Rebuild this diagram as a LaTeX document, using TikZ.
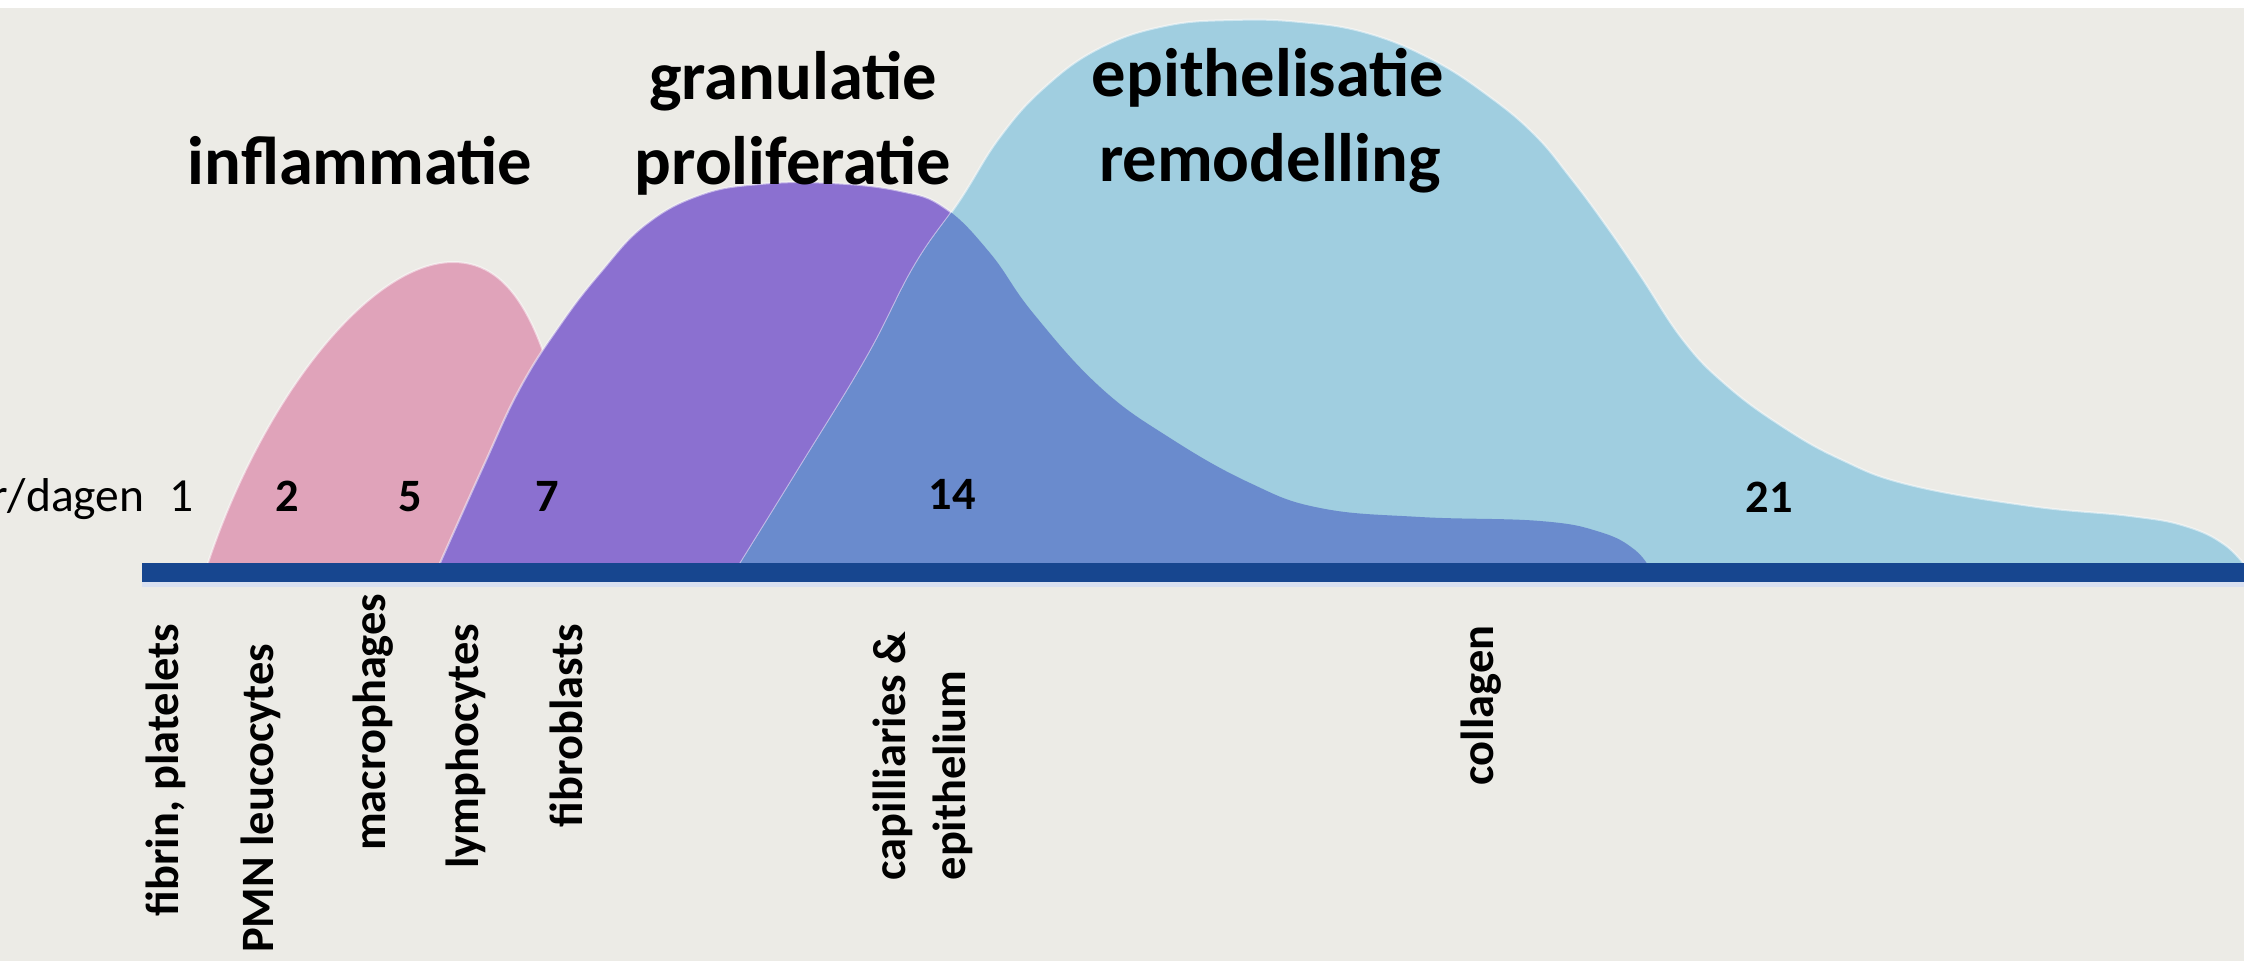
\documentclass[tikz,border=0pt]{standalone}
\usepackage{fontspec}
\setmainfont{Carlito}
\usepackage{tikz}
\usetikzlibrary{calc}

\definecolor{backgr}{HTML}{ECEBE6}
\definecolor{inflpink}{HTML}{E0A3BA}
\definecolor{granpurple}{HTML}{8B70D0}
\definecolor{overlapblue}{HTML}{6A8BCD}
\definecolor{epiblue}{HTML}{A0CEE0}
\definecolor{axisblue}{HTML}{17468F}
\definecolor{axisedge}{HTML}{D9E0F0}

\newcommand{\titlefont}{\fontsize{19.5}{23}\selectfont\bfseries}
\newcommand{\labelfont}{\fontsize{13.2}{17}\selectfont\bfseries}

% phase curves, in pixels of the slide
\newcommand{\pinkcurve}{(205,572) .. controls (260,400) and (370,262) .. (453,262) .. controls (515,262) and (560,330) .. (585,572)}
\newcommand{\purplecurve}{plot[smooth, tension=0.7] coordinates {(436,572) (483,467) (520,388) (560,325) (600,273) (645,225) (700,195) (760,184) (830,183) (900,191) (945,208) (990,253) (1033,313) (1100,387) (1170,438) (1250,483) (1320,508) (1420,517) (1540,521) (1600,532) (1635,550) (1652,572)}}
\newcommand{\bluecurve}{plot[smooth, tension=0.7] coordinates {(735,572) (800,467) (867,357) (915,265) (960,200) (1000,137) (1045,87) (1100,48) (1165,26) (1233,20) (1300,22) (1367,33) (1433,60) (1490,97) (1535,135) (1570,177) (1605,224) (1640,275) (1683,340) (1725,384) (1780,425) (1840,459) (1910,485) (2030,506) (2130,516) (2185,526) (2225,545) (2250,572)}}

\begin{document}
\begin{tikzpicture}[x=0.01cm, y=-0.01cm,
	title/.style={font=\titlefont, inner sep=0, anchor=base},
	day/.style={font=\labelfont, inner sep=0, anchor=base},
	cell/.style={font=\labelfont, inner sep=0, rotate=90, anchor=east},
	phase/.style={draw=white, draw opacity=0.5, line width=0.02cm}]

	\useasboundingbox (0,0) rectangle (2244,961);
	\fill[backgr] (0,0) rectangle (2244,961);
	\fill[white] (0,0) rectangle (2244,8);

	\fill[inflpink, phase] \pinkcurve -- cycle;
	\fill[granpurple, phase] \purplecurve -- cycle;
	\fill[epiblue, phase] \bluecurve -- cycle;
	\begin{scope}
		\clip \purplecurve -- cycle;
		\fill[overlapblue] \bluecurve -- cycle;
	\end{scope}

	\coordinate (t0) at (142,572.5);
	\coordinate (tend) at (2244,572.5);
	\draw[axisedge, line width=0.05cm] ($(t0)+(0,12)$) -- ($(tend)+(0,12)$);
	\draw[axisblue, line width=0.19cm] (t0) -- (tend);

	\node[title] (inflam) at (360,185) {inflammatie};
	\node[title] (gran) at (793,100) {granulatie};
	\node[title] (prolif) at (793,185) {proliferatie};
	\node[title] (epith) at (1268,97) {epithelisatie};
	\node[title] (remod) at (1270,182) {remodelling};

	\node[day, font=\fontsize{13.5}{17}\selectfont, anchor=base east] (unit) at (145,512) {r/dagen};
	\node[day, font=\fontsize{13.5}{17}\selectfont] (d1) at (182,512) {1};
	\node[day] (d2) at (287,512) {2};
	\node[day] (d5) at (410,512) {5};
	\node[day] (d7) at (547,512) {7};
	\node[day] (d14) at (952,510) {14};
	\node[day] (d21) at (1769,513) {21};

	\node[cell] (fibrin) at (166,623) {fibrin, platelets};
	\node[cell] (pmn) at (261,643) {PMN leucocytes};
	\node[cell] (macro) at (373,593) {macrophages};
	\node[cell] (lympho) at (466,623) {lymphocytes};
	\node[cell] (fibro) at (566,623) {fibroblasts};
	\node[cell, anchor=north west, align=left] (capil) at (872,881) {capilliaries \&\\epithelium};
	\node[cell] (collag) at (1481,625) {collagen};

\end{tikzpicture}
\end{document}
